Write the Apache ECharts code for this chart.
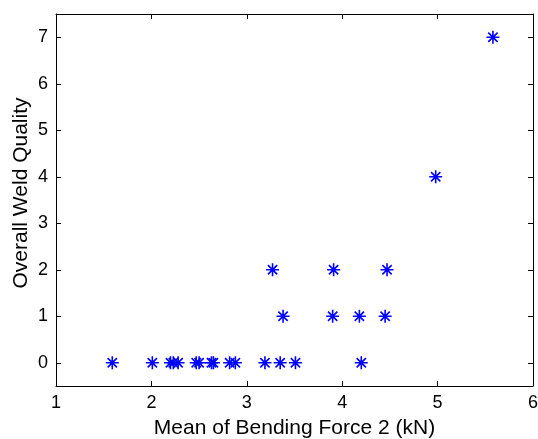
<!DOCTYPE html>
<html>
<head>
<meta charset="utf-8">
<script src="https://cdn.jsdelivr.net/npm/echarts@6/dist/echarts.min.js"></script>
<style>
  html, body { margin: 0; padding: 0; background: #fff; }
  #chart { width: 538px; height: 439px; }
</style>
</head>
<body>
<div id="chart"></div>
<script>
// mean bending force 2 (kN) and overall weld quality
var forceValues = [1.59, 2.01, 2.20, 2.23, 2.28, 2.47, 2.50, 2.63, 2.65, 2.82, 2.88, 3.19, 3.35, 3.51, 4.20,
                   3.38, 3.90, 4.18, 4.45,
                   3.27, 3.91, 4.47,
                   4.98,
                   5.58];
var qualityValues = [0, 0, 0, 0, 0, 0, 0, 0, 0, 0, 0, 0, 0, 0, 0,
                     1, 1, 1, 1,
                     2, 2, 2,
                     4,
                     7];
var yTickValues = [0, 1, 2, 3, 4, 5, 6, 7];

var points = forceValues.map(function (f, i) { return [f, qualityValues[i]]; });

// matlab '*' marker: plus + cross
var starPath = 'path://M0 7L14 7M7 0L7 14M2 2L12 12M12 2L2 12';

var font = 'Liberation Sans, Arial, sans-serif';

var chart = echarts.init(document.getElementById('chart'));
chart.setOption({
    animation: false,
    grid: { left: 56, right: 5, top: 14, bottom: 53, containLabel: false, outerBoundsMode: 'none' },
    xAxis: [
        {
            type: 'value', min: 1, max: 6, interval: 1,
            name: 'Mean of Bending Force 2 (kN)',
            nameLocation: 'middle', nameGap: 32,
            nameTextStyle: { fontFamily: font, fontSize: 21, color: '#000' },
            axisLine: { show: true, onZero: false, lineStyle: { color: '#000', width: 1 } },
            axisTick: { inside: true, length: 5, lineStyle: { color: '#000' } },
            axisLabel: { margin: 8, fontFamily: font, fontSize: 18, color: '#000' },
            splitLine: { show: false }
        },
        {
            type: 'value', min: 1, max: 6, interval: 1, position: 'top',
            axisLine: { show: true, onZero: false, lineStyle: { color: '#000', width: 1 } },
            axisTick: { inside: true, length: 5, lineStyle: { color: '#000' } },
            axisLabel: { show: false },
            splitLine: { show: false }
        }
    ],
    yAxis: [
        {
            type: 'value', min: -0.5, max: 7.5,
            name: 'Overall Weld Quality',
            nameLocation: 'middle', nameGap: 24, nameMoveOverlap: false,
            nameTextStyle: { fontFamily: font, fontSize: 21, color: '#000', padding: [0, 0, 0, 14] },
            axisLine: { show: true, onZero: false, lineStyle: { color: '#000', width: 1 } },
            axisTick: { inside: true, length: 5, customValues: yTickValues, lineStyle: { color: '#000' } },
            axisLabel: { margin: 8, fontFamily: font, fontSize: 18, color: '#000', customValues: yTickValues },
            splitLine: { show: false }
        },
        {
            type: 'value', min: -0.5, max: 7.5, position: 'right',
            axisLine: { show: true, onZero: false, lineStyle: { color: '#000', width: 1 } },
            axisTick: { inside: true, length: 5, customValues: yTickValues, lineStyle: { color: '#000' } },
            axisLabel: { show: false, customValues: yTickValues },
            splitLine: { show: false }
        }
    ],
    series: [
        {
            type: 'scatter',
            data: points,
            symbol: starPath,
            symbolSize: 13,
            itemStyle: { color: '#0000ff', borderColor: '#0000ff', borderWidth: 1.6, opacity: 1 }
        }
    ]
});
</script>
</body>
</html>
